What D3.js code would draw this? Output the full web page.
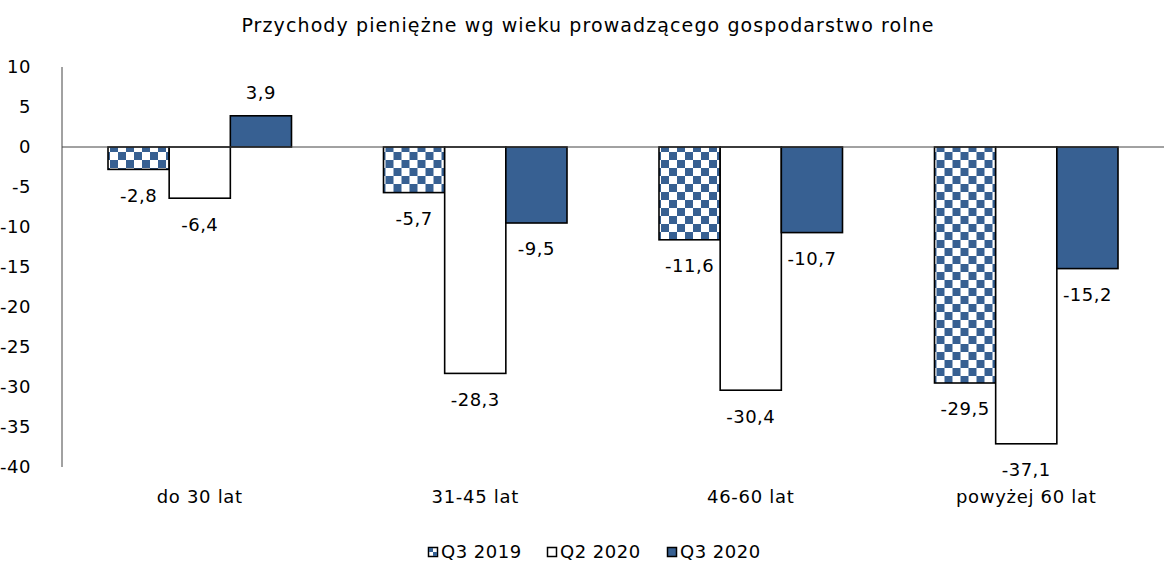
<!DOCTYPE html>
<html>
<head>
<meta charset="utf-8">
<script src="https://cdn.jsdelivr.net/npm/d3@7"></script>
<style>
  body { margin: 0; background: #fff; }
  text { font-family: "DejaVu Sans", sans-serif; fill: #000; }
</style>
</head>
<body>
<svg id="chart" width="1164" height="568"></svg>
<script>
// data
const categories = ["do 30 lat", "31-45 lat", "46-60 lat", "powyżej 60 lat"];
const seriesNames = ["Q3 2019", "Q2 2020", "Q3 2020"];
const q3_2019 = [-2.8, -5.7, -11.6, -29.5];
const q2_2020 = [-6.4, -28.3, -30.4, -37.1];
const q3_2020 = [3.9, -9.5, -10.7, -15.2];
const yTicks = [10, 5, 0, -5, -10, -15, -20, -25, -30, -35, -40];

const blue = "#376092";
const svg = d3.select("#chart");

const margin = {left: 62, right: 0, top: 67, bottom: 101};
const width = 1164, height = 568;

const fmt = v => v.toFixed(1).replace(".", ",");

const defs = svg.append("defs");
const pat = defs.append("pattern")
  .attr("id", "checker")
  .attr("patternUnits", "userSpaceOnUse")
  .attr("width", 16).attr("height", 16);
pat.append("rect").attr("width", 16).attr("height", 16).attr("fill", "#fff");
pat.append("rect").attr("width", 8).attr("height", 8).attr("fill", blue);
pat.append("rect").attr("x", 8).attr("y", 8).attr("width", 8).attr("height", 8).attr("fill", blue);

const fills = ["url(#checker)", "#fff", blue];

const x = d3.scaleBand()
  .domain(categories)
  .range([margin.left, width - margin.right]);

const xInner = d3.scaleBand()
  .domain(seriesNames)
  .range([46, x.bandwidth() - 46]);

const y = d3.scaleLinear()
  .domain([-40, 10])
  .range([height - margin.bottom, margin.top]);

// title
svg.append("text")
  .attr("x", 588).attr("y", 32)
  .attr("text-anchor", "middle")
  .style("font-size", "19px")
  .style("letter-spacing", "1.1px")
  .text("Przychody pieniężne wg wieku prowadzącego gospodarstwo rolne");

// y axis labels
svg.selectAll(".ytick")
  .data(yTicks)
  .enter().append("text")
  .attr("class", "ytick")
  .attr("x", 31)
  .attr("y", d => y(d))
  .attr("dy", "0.35em")
  .attr("text-anchor", "end")
  .style("font-size", "18px")
  .style("letter-spacing", "0.5px")
  .text(d => d);

svg.append("line")
  .attr("x1", margin.left).attr("x2", margin.left)
  .attr("y1", y(10)).attr("y2", y(-40))
  .attr("stroke", "#444").attr("stroke-width", 1);

const rows = categories.map((c, i) => ({
  cat: c,
  vals: [q3_2019[i], q2_2020[i], q3_2020[i]]
}));

const groups = svg.selectAll(".grp")
  .data(rows)
  .enter().append("g")
  .attr("class", "grp")
  .attr("transform", d => `translate(${x(d.cat)},0)`);

groups.selectAll("rect")
  .data(d => d.vals.map((v, j) => ({v: v, s: seriesNames[j], j: j})))
  .enter().append("rect")
  .attr("x", d => xInner(d.s))
  .attr("width", xInner.bandwidth())
  .attr("y", d => y(Math.max(0, d.v)))
  .attr("height", d => Math.abs(y(d.v) - y(0)))
  .attr("fill", d => fills[d.j])
  .attr("stroke", "#000")
  .attr("stroke-width", 1.6);

groups.selectAll(".val")
  .data(d => d.vals.map((v, j) => ({v: v, s: seriesNames[j]})))
  .enter().append("text")
  .attr("class", "val")
  .attr("x", d => xInner(d.s) + xInner.bandwidth() / 2)
  .attr("y", d => d.v >= 0 ? y(d.v) - 23 : y(d.v) + 26)
  .attr("dy", "0.35em")
  .attr("text-anchor", "middle")
  .style("font-size", "18px")
  .style("letter-spacing", "0.5px")
  .text(d => fmt(d.v));

// zero line
svg.append("line")
  .attr("x1", margin.left).attr("x2", width)
  .attr("y1", y(0)).attr("y2", y(0))
  .attr("stroke", "#444").attr("stroke-width", 1);

// category labels
svg.selectAll(".cat")
  .data(categories)
  .enter().append("text")
  .attr("class", "cat")
  .attr("x", d => x(d) + x.bandwidth() / 2)
  .attr("y", 497)
  .attr("dy", "0.35em")
  .attr("text-anchor", "middle")
  .style("font-size", "18px")
  .style("letter-spacing", "0.7px")
  .text(d => d);

// legend
const legend = svg.append("g").attr("transform", "translate(428,552)");
const legX = [0, 119, 239];
seriesNames.forEach((s, i) => {
  const g = legend.append("g").attr("transform", `translate(${legX[i]},0)`);
  g.append("rect")
    .attr("x", 0.5).attr("y", -4.5)
    .attr("width", 9).attr("height", 9)
    .attr("fill", i === 2 ? blue : "#fff")
    .attr("stroke", "#000").attr("stroke-width", 1.5);
  if (i === 0) {
    g.append("rect").attr("x", 1).attr("y", -4).attr("width", 4).attr("height", 4).attr("fill", blue);
    g.append("rect").attr("x", 5).attr("y", 0).attr("width", 4).attr("height", 4).attr("fill", blue);
  }
  g.append("text")
    .attr("x", 13).attr("y", 0)
    .attr("dy", "0.35em")
    .style("font-size", "18px")
    .style("letter-spacing", "0.5px")
    .text(s);
});
</script>
</body>
</html>
